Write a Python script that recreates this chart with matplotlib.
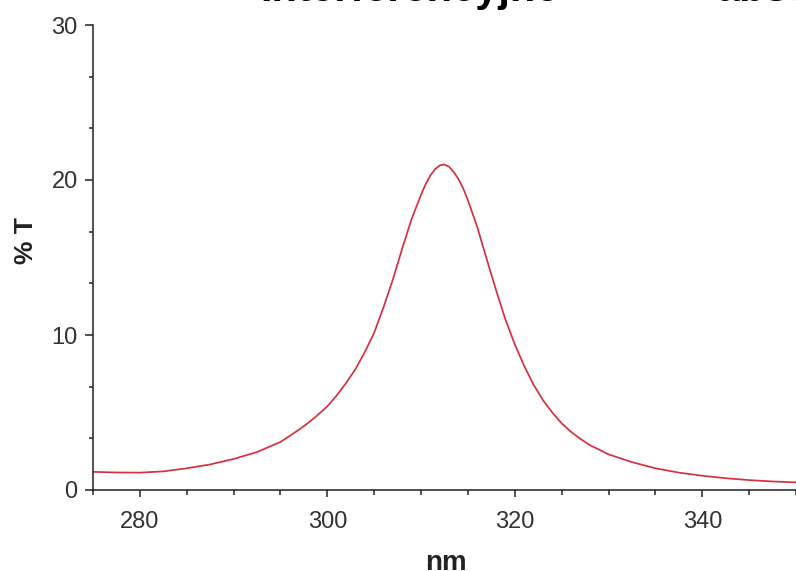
import matplotlib
matplotlib.use("Agg")
import matplotlib.pyplot as plt
from matplotlib.ticker import MultipleLocator

plt.rcParams['font.family'] = ['Liberation Sans', 'DejaVu Sans']

# transmission spectrum
wavelength = [275, 277.5, 280, 282.5, 285, 287.5, 290, 292.5, 295, 296, 297, 298, 299,
              300, 301, 302, 303, 304, 305, 306, 307, 308, 309, 310, 310.5, 311, 311.5,
              312, 312.5, 313, 313.5, 314, 314.5, 315, 316, 317, 318, 319, 320, 321, 322,
              323, 324, 325, 326, 327, 328, 329, 330, 332.5, 335, 337.5, 340, 342.5, 345,
              347.5, 350]
transmission = [1.17, 1.13, 1.12, 1.2, 1.4, 1.65, 2.0, 2.45, 3.1, 3.5, 3.9, 4.35, 4.85,
                5.4, 6.1, 6.9, 7.8, 8.9, 10.15, 11.8, 13.6, 15.6, 17.5, 19.05, 19.75, 20.3, 20.7,
                20.95, 21.0, 20.85, 20.5, 20.05, 19.45, 18.7, 16.95, 14.9, 12.9, 11.0, 9.4, 8.0, 6.8,
                5.8, 5.0, 4.3, 3.75, 3.3, 2.9, 2.6, 2.3, 1.8, 1.4, 1.12, 0.92, 0.76, 0.64,
                0.55, 0.49]

x_limits = (275, 350)
y_limits = (0, 30)

fig = plt.figure(figsize=(7.96, 5.71), dpi=100)
ax = fig.add_axes([93 / 796, 81 / 571, 703 / 796, 465 / 571])

ax.plot(wavelength, transmission, color='#d6303e', lw=1.25, solid_joinstyle='round')

ax.set_xlim(*x_limits)
ax.set_ylim(*y_limits)
ax.spines['top'].set_visible(False)
ax.spines['right'].set_visible(False)
for side in ('left', 'bottom'):
    ax.spines[side].set_color('#222222')
    ax.spines[side].set_linewidth(1.1)

ax.xaxis.set_major_locator(MultipleLocator(20))
ax.xaxis.set_minor_locator(MultipleLocator(5))
ax.yaxis.set_major_locator(MultipleLocator(10))
ax.yaxis.set_minor_locator(MultipleLocator(10 / 3))

ax.tick_params(axis='x', which='major', length=5, width=1.1, pad=10,
               labelsize=17, colors='#222222', labelcolor='#333333')
ax.tick_params(axis='x', which='minor', length=3.5, width=1.1, colors='#222222')
ax.tick_params(axis='y', which='major', length=6, width=1.1, pad=5,
               labelsize=17, colors='#222222', labelcolor='#333333')
ax.tick_params(axis='y', which='minor', length=3, width=1.1, colors='#222222')

# axis titles
fig.text(446 / 796, 0.002, 'nm', ha='center', va='baseline',
         fontsize=20, fontweight='bold', color='#222222')
fig.text(26 / 796, 1 - 241 / 571, '% T', ha='center', va='center', rotation=90,
         fontsize=19, fontweight='bold', color='#222222')

# heading cut off by the top edge
fig.text(260 / 796, 1 - 0.5 / 571, 'Interferencyjne', ha='left', va='baseline',
         fontsize=30, fontweight='bold', color='black')
fig.text(717 / 796, 1 - 0.5 / 571, 'absorpcyjne', ha='left', va='baseline',
         fontsize=30, fontweight='bold', color='black')

fig.savefig('out.png', dpi=100)
